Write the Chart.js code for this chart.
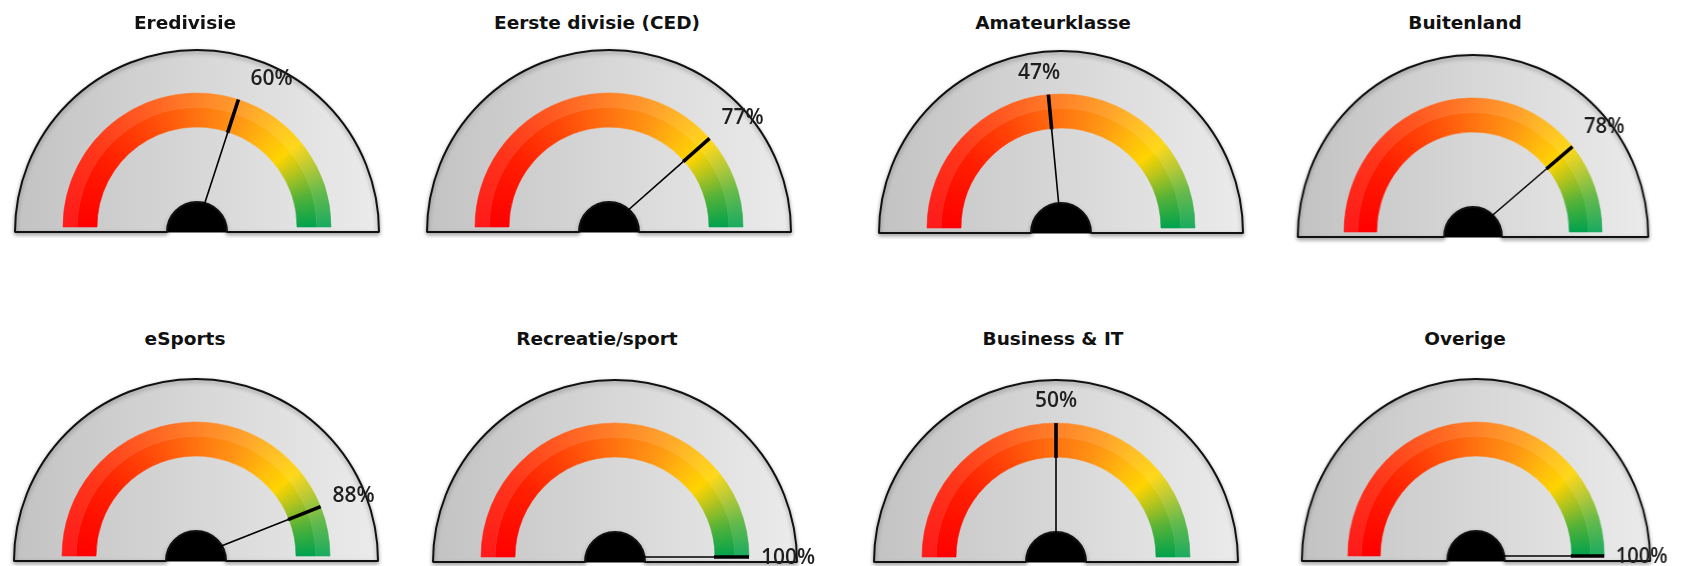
<!DOCTYPE html>
<html><head><meta charset="utf-8">
<script src="https://cdn.jsdelivr.net/npm/chart.js@4.4.1/dist/chart.umd.min.js"></script>
<style>
html,body{margin:0;padding:0;background:#fff;width:1691px;height:566px;overflow:hidden;position:relative}
.box{position:absolute}
.bg{z-index:1}.fg{z-index:2}
.title{position:absolute;z-index:3;font-family:'DejaVu Sans',sans-serif;font-weight:bold;font-size:18.5px;color:#111;white-space:nowrap;transform:translate(-50%,-50%)}
</style></head><body>
<script>
// ---- data ----
const categories = ['Eredivisie','Eerste divisie (CED)','Amateurklasse','Buitenland','eSports','Recreatie/sport','Business & IT','Overige'];
const values = [60, 77, 47, 78, 88, 100, 50, 100];
const valueLabels = values.map(v => v + '%');
const scaleMax = 100;

// ---- layout / style ----
const gaugeCenters = [[196.5,232],[609,232],[1061,233],[1472.5,237],[195.5,561],[615,562],[1055.5,562],[1475.5,561]];
const titleCenters = [[185,22],[597,22],[1053,22],[1465,22],[185,338],[597,338],[1053,338],[1465,338]];
const squeeze = [1,1,1,0.963,1,1,1,0.957];
const R = 182, HUB = 30, BAND_OUT = 134, BAND_IN = 100, BAND_LIFT = 5;
const BP = 8, FPX = 75, FPT = 60, FPB = 20;
const bandStops = [[0,'#ff0000'],[0.2,'#ff1e00'],[0.35,'#ff4608'],[0.5,'#ff7310'],[0.62,'#ff9614'],[0.72,'#ffbe0c'],[0.78,'#ffd400'],[0.84,'#b4c41e'],[0.91,'#55b238'],[1,'#00a24e']];

function lighten(hex, f){
  const n = parseInt(hex.slice(1),16);
  const r=(n>>16)&255,g=(n>>8)&255,b=n&255;
  const m=c=>Math.round(c+(255-c)*f);
  return 'rgb('+m(r)+','+m(g)+','+m(b)+')';
}
function conic(chart, light){
  const a = chart.chartArea;
  if(!a) return '#ff8000';
  const cx=(a.left+a.right)/2, cy=a.bottom;
  const g = chart.ctx.createConicGradient(Math.PI, cx, cy);
  bandStops.forEach(([t,c])=>g.addColorStop(t*0.5, light? lighten(c,light):c));
  const last = bandStops[bandStops.length-1][1], first = bandStops[0][1];
  g.addColorStop(0.74, light?lighten(last,light):last);
  g.addColorStop(0.76, light?lighten(first,light):first);
  g.addColorStop(1, light?lighten(first,light):first);
  return g;
}

const shadowPlugin = {
  id:'faceShadow',
  beforeDatasetDraw(chart, args){ if(args.index===0){ const c=chart.ctx; c.save(); c.shadowColor='rgba(0,0,0,0.35)'; c.shadowBlur=4; c.shadowOffsetY=2; } },
  afterDatasetDraw(chart, args){ if(args.index===0){ chart.ctx.restore(); } }
};

const needlePlugin = {
  id:'needle',
  afterDatasetsDraw(chart, args, opts){
    const ctx = chart.ctx;
    const outerArc = chart.getDatasetMeta(0).data[0];
    const innerArc = chart.getDatasetMeta(1).data[0];
    const x = innerArc.x, y = innerArc.y;
    const ang = innerArc.endAngle;
    const rOut = outerArc.outerRadius, rIn = innerArc.innerRadius;
    const cosA = Math.cos(ang), sinA = Math.sin(ang);
    ctx.save();
    ctx.lineCap='butt';
    ctx.strokeStyle='#000';
    ctx.lineWidth=1.6;
    ctx.beginPath(); ctx.moveTo(x,y); ctx.lineTo(x+rIn*cosA, y+rIn*sinA); ctx.stroke();
    ctx.lineWidth=3.6;
    ctx.beginPath(); ctx.moveTo(x+(rIn-1)*cosA, y+(rIn-1)*sinA); ctx.lineTo(x+rOut*cosA, y+rOut*sinA); ctx.stroke();
    const tx = x+rOut*cosA, ty = y+rOut*sinA;
    ctx.font = '600 21px "Open Sans"';
    ctx.fillStyle = '#1e1e1e';
    ctx.textBaseline = 'middle';
    let lx, ly;
    if(Math.abs(cosA) < 0.2){ ctx.textAlign='center'; lx = tx + 100*cosA; ly = ty - 22; }
    else {
      const dy = -22*Math.min(1, 1.5*(-sinA)) + 1;
      if(cosA > 0){ ctx.textAlign='left'; lx = tx + 12; } else { ctx.textAlign='right'; lx = tx - 12; }
      ly = ty + dy;
    }
    ctx.fillText(opts.label, lx, ly);
    ctx.restore();
  }
};

const common = {
  responsive:true, maintainAspectRatio:false, animation:false, events:[],
  rotation:-90, circumference:180,
  plugins:{legend:{display:false}, tooltip:{enabled:false}}
};

categories.forEach((name, i) => {
  const [cx, by] = gaugeCenters[i];
  const sq = squeeze[i];
  // background face
  const bg = document.createElement('div');
  bg.className='box bg';
  const bw = 2*R+2*BP, bh = R+2*BP;
  Object.assign(bg.style,{left:(cx-R-BP)+'px', top:(by-R-BP)+'px', width:bw+'px', height:bh+'px', transform:'scaleX('+sq+')', transformOrigin:(R+BP)+'px 0'});
  const bc = document.createElement('canvas'); bg.appendChild(bc); document.body.appendChild(bg);
  new Chart(bc, {
    type:'doughnut',
    data:{labels:['face'], datasets:[
      {data:[1], weight:R-HUB, clip:false, borderWidth:2, borderColor:'#111',
       backgroundColor:(c)=>{const a=c.chart.chartArea; if(!a) return '#d8d8d8'; const g=c.chart.ctx.createLinearGradient(a.left,0,a.right,0); g.addColorStop(0,'#c3c3c3'); g.addColorStop(1,'#ebebeb'); return g;}},
      {data:[1], weight:HUB, clip:false, borderWidth:1, borderColor:'#000', backgroundColor:'#000'}
    ]},
    options:Object.assign({}, common, {radius:R, cutout:0, layout:{padding:BP}}),
    plugins:[shadowPlugin]
  });
  // foreground band + needle
  const fg = document.createElement('div');
  fg.className='box fg';
  const fw = 2*BAND_OUT+2*FPX, fh = BAND_OUT+FPT+FPB;
  const fcy = by - BAND_LIFT;
  Object.assign(fg.style,{left:(cx-BAND_OUT-FPX)+'px', top:(fcy-BAND_OUT-FPT)+'px', width:fw+'px', height:fh+'px', transform:'scaleX('+sq+')', transformOrigin:(BAND_OUT+FPX)+'px 0'});
  const fc = document.createElement('canvas'); fg.appendChild(fc); document.body.appendChild(fg);
  const v = values[i];
  const band = BAND_OUT-BAND_IN;
  new Chart(fc, {
    type:'doughnut',
    data:{labels:['value','rest'], datasets:[
      {data:[v, scaleMax-v], weight:band*0.42, clip:false, borderWidth:0.6,
       backgroundColor:(c)=>conic(c.chart,0.1), borderColor:(c)=>conic(c.chart,0.1)},
      {data:[v, scaleMax-v], weight:band*0.58, clip:false, borderWidth:0.6,
       backgroundColor:(c)=>conic(c.chart,0), borderColor:(c)=>conic(c.chart,0)}
    ]},
    options:Object.assign({}, common, {radius:BAND_OUT, cutout:(BAND_IN/BAND_OUT*100)+'%',
      layout:{padding:{left:FPX,right:FPX,top:FPT,bottom:FPB}},
      plugins:{legend:{display:false}, tooltip:{enabled:false}, needle:{label:valueLabels[i]}}}),
    plugins:[needlePlugin]
  });
  // title
  const t = document.createElement('div');
  t.className='title'; t.textContent = name;
  t.style.left = titleCenters[i][0]+'px'; t.style.top = titleCenters[i][1]+'px';
  document.body.appendChild(t);
});
</script>
</body></html>
